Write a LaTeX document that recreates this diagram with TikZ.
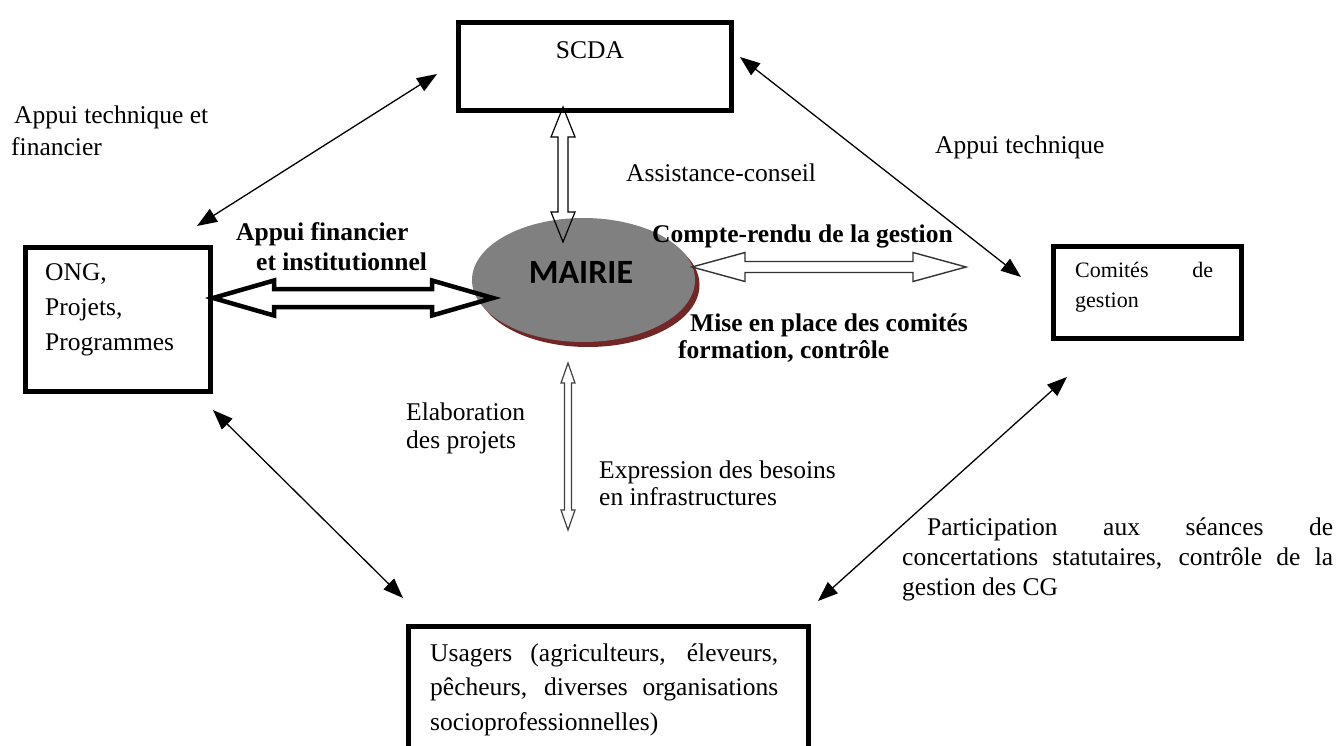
\documentclass[tikz,border=0pt]{standalone}
\usepackage{fontspec}
\setmainfont{Liberation Serif}
\newfontfamily\calib{Carlito}
\usetikzlibrary{arrows.meta,calc,shapes.geometric}
\definecolor{ellgray}{HTML}{808080}
\definecolor{shadowred}{HTML}{722626}
\tikzset{
  box/.style={draw, line width=5pt, anchor=north west, inner sep=0pt},
  lbl/.style={anchor=base west, inner sep=0pt, font=\fontsize{25.5pt}{32pt}\selectfont, align=left},
  blbl/.style={lbl, font=\fontsize{25.5pt}{30pt}\selectfont\bfseries},
  conn/.style={line width=1.3pt, {Triangle[length=20pt,width=15pt]}-{Triangle[length=20pt,width=15pt]}},
}
% horizontal double block arrow: left tip, right tip, shaft half, head half, head length, style
\newcommand{\hblock}[6]{\draw[#6] (#1) -- ($(#1)+(#5,#4)$) -- ($(#1)+(#5,#3)$) -- ($(#2)+(-#5,#3)$) -- ($(#2)+(-#5,#4)$) -- (#2) -- ($(#2)+(-#5,-#4)$) -- ($(#2)+(-#5,-#3)$) -- ($(#1)+(#5,-#3)$) -- ($(#1)+(#5,-#4)$) -- cycle;}
% vertical double block arrow: top tip, bottom tip, shaft half, head half, head length, style
\newcommand{\vblock}[6]{\draw[#6] (#1) -- ($(#1)+(#4,#5)$) -- ($(#1)+(#3,#5)$) -- ($(#2)+(#3,-#5)$) -- ($(#2)+(#4,-#5)$) -- (#2) -- ($(#2)+(-#4,-#5)$) -- ($(#2)+(-#3,-#5)$) -- ($(#1)+(-#3,#5)$) -- ($(#1)+(-#4,#5)$) -- cycle;}
\hyphenpenalty=10000
\begin{document}
\begin{tikzpicture}[x=1pt,y=-1pt]
\useasboundingbox (0,0) rectangle (1339,745);
% boxes
\node[box, minimum width=273pt, minimum height=88pt] (scda) at (455.5,19.5) {};
\node[box, minimum width=185pt, minimum height=144pt] (ong) at (22.5,244.5) {};
\node[box, minimum width=188pt, minimum height=92pt] (cg) at (1050.5,243.5) {};
\node[box, minimum width=400pt, minimum height=150pt] (usa) at (405.5,623.5) {};
% box texts
\node[inner sep=0pt, font=\fontsize{25.5pt}{30pt}\selectfont] (scdatxt) at (590,50) {SCDA};
\node[lbl, font=\fontsize{25.5pt}{35pt}\selectfont] (ongtxt) at (45,350) {ONG,\\Projets,\\Programmes};
\node[lbl, text width=138pt, align=justify, font=\fontsize{22pt}{30pt}\selectfont] (cgtxt) at (1075,277) {Comités de\linebreak gestion};
\node[lbl, text width=348pt, align=justify, font=\fontsize{25.5pt}{34.5pt}\selectfont] (usatxt) at (430,661) {Usagers (agriculteurs, éleveurs,\linebreak pêcheurs, diverses organisations\linebreak socioprofessionnelles)};
% MAIRIE
\node[ellipse, fill=shadowred, minimum width=223pt, minimum height=124pt, inner sep=0pt] (mshadow) at (588,285) {};
\node[ellipse, fill=ellgray, minimum width=223pt, minimum height=124pt, inner sep=0pt] (mairie) at (583.5,280) {};
\node[inner sep=0pt, font=\calib\bfseries\fontsize{34pt}{40pt}\selectfont] (mairietxt) at (581,272) {MAIRIE};
% block arrows
\coordinate (sa1) at (563,107);
\coordinate (sa2) at (563,242);
\vblock{sa1}{sa2}{5}{12}{30}{line width=1.2pt}
\coordinate (cr1) at (692,267);
\coordinate (cr2) at (966,267);
\hblock{cr1}{cr2}{5.5}{14.5}{53}{line width=1.4pt, draw=black!80}
\coordinate (ta1) at (213,298);
\coordinate (ta2) at (493,298);
\hblock{ta1}{ta2}{9}{17.5}{61}{line width=4.5pt}
\coordinate (ea1) at (568,363);
\coordinate (ea2) at (568,530);
\vblock{ea1}{ea2}{3.5}{7}{20}{line width=1.2pt, draw=black!75}
% thin connectors
\coordinate (a1s) at (197,226); \coordinate (a1e) at (437,74);
\draw[conn] (a1s) -- (a1e);
\coordinate (a2s) at (740,57); \coordinate (a2e) at (1021,277);
\draw[conn] (a2s) -- (a2e);
\coordinate (a3s) at (213,410); \coordinate (a3e) at (403,598);
\draw[conn] (a3s) -- (a3e);
\coordinate (a4s) at (1067,377); \coordinate (a4e) at (818,601);
\draw[conn] (a4s) -- (a4e);
% labels (align=left nodes: base anchor is the last line)
\node[lbl] (l1) at (11,155) {\hspace*{3pt}Appui technique et\\financier};
\node[lbl] (l2) at (935,153) {Appui technique};
\node[lbl] (l3) at (626,181) {Assistance-conseil};
\node[blbl] (l4) at (652,242) {Compte-rendu de la gestion};
\node[blbl] (l5) at (236,270) {Appui financier\\\hspace*{20pt}et institutionnel};
\node[blbl, font=\fontsize{25.5pt}{27pt}\selectfont\bfseries] (l6) at (678,358) {\hspace*{12pt}Mise en place des comités\\formation, contrôle};
\node[lbl, font=\fontsize{25.5pt}{28pt}\selectfont] (l7) at (406,448) {Elaboration\\des projets};
\node[lbl, font=\fontsize{25.5pt}{27pt}\selectfont] (l8) at (599,505) {Expression des besoins\\en infrastructures};
\node[lbl, text width=431pt, align=justify, font=\fontsize{25.5pt}{30pt}\selectfont] (l9) at (902,535) {\hspace*{25pt}Participation aux séances de\linebreak concertations statutaires, contrôle de la\linebreak gestion des CG};
\end{tikzpicture}
\end{document}
